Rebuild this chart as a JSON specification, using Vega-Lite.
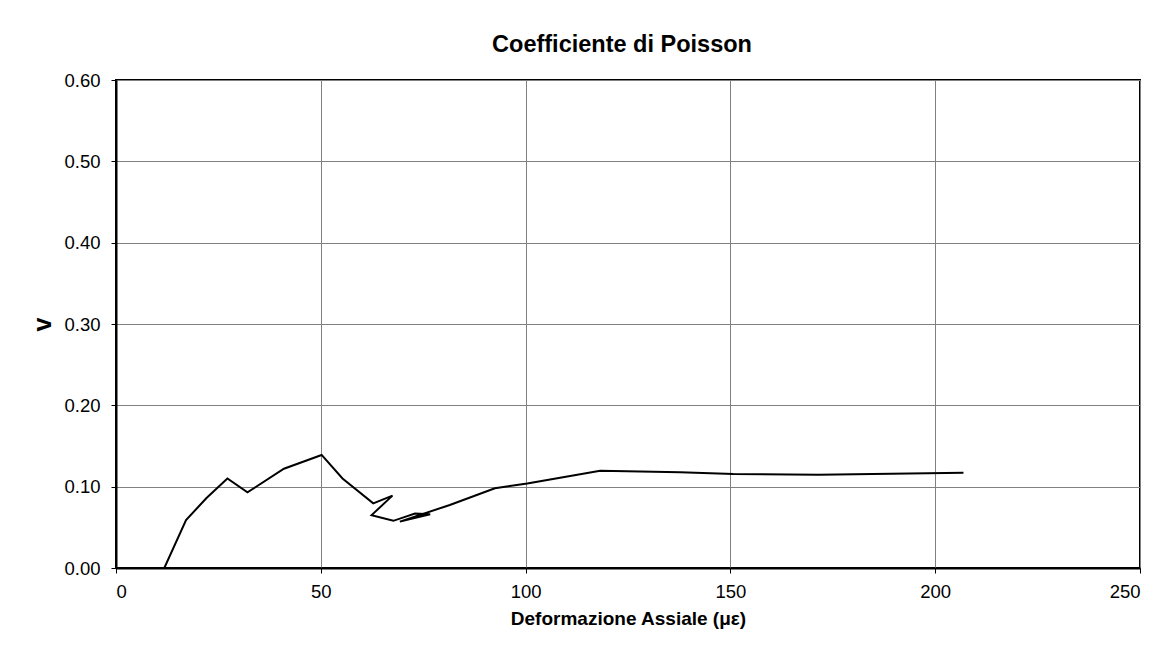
{
  "$schema": "https://vega.github.io/schema/vega-lite/v6.json",
  "autosize": {"type": "none"},
  "width": 1024,
  "height": 488,
  "padding": {"left": 116, "top": 80, "right": 26, "bottom": 100},
  "background": "white",
  "config": {
    "font": "Liberation Sans",
    "view": {"stroke": "black", "strokeWidth": 2},
    "axis": {
      "grid": true,
      "gridColor": "#808080",
      "gridWidth": 1,
      "gridOpacity": 1,
      "domainColor": "black",
      "domainWidth": 2,
      "tickColor": "black",
      "tickSize": 5,
      "labelFont": "Liberation Sans",
      "labelFontSize": 18.5,
      "labelColor": "black",
      "titleFont": "Liberation Sans",
      "titleColor": "black",
      "titleFontWeight": "bold"
    }
  },
  "title": {
    "text": "Coefficiente di Poisson",
    "font": "Liberation Sans",
    "fontSize": 23.5,
    "fontWeight": "bold",
    "color": "black",
    "anchor": "middle",
    "baseline": "alphabetic",
    "offset": 28,
    "dy": 32,
    "dx": -6
  },
  "data": {
    "values": [
      {"i": 1, "x": 11.8, "v": 0.0},
      {"i": 2, "x": 17.1, "v": 0.059},
      {"i": 3, "x": 22.1, "v": 0.086},
      {"i": 4, "x": 27.2, "v": 0.110},
      {"i": 5, "x": 32.1, "v": 0.093},
      {"i": 6, "x": 41.0, "v": 0.122},
      {"i": 7, "x": 50.2, "v": 0.139},
      {"i": 8, "x": 55.3, "v": 0.110},
      {"i": 9, "x": 62.8, "v": 0.0795},
      {"i": 10, "x": 67.5, "v": 0.089},
      {"i": 11, "x": 62.4, "v": 0.065},
      {"i": 12, "x": 67.7, "v": 0.058},
      {"i": 13, "x": 73.0, "v": 0.067},
      {"i": 14, "x": 76.7, "v": 0.066},
      {"i": 15, "x": 69.3, "v": 0.057},
      {"i": 16, "x": 81.5, "v": 0.0775},
      {"i": 17, "x": 92.5, "v": 0.098},
      {"i": 18, "x": 100.4, "v": 0.104},
      {"i": 19, "x": 118.2, "v": 0.1197},
      {"i": 20, "x": 137.7, "v": 0.1176},
      {"i": 21, "x": 150.7, "v": 0.1156},
      {"i": 22, "x": 171.5, "v": 0.1148},
      {"i": 23, "x": 206.9, "v": 0.117}
    ]
  },
  "mark": {"type": "line", "color": "black", "strokeWidth": 2, "clip": true},
  "encoding": {
    "order": {"field": "i", "type": "quantitative"},
    "x": {
      "field": "x",
      "type": "quantitative",
      "scale": {"domain": [0, 250], "nice": false, "zero": false},
      "axis": {
        "values": [0, 50, 100, 150, 200, 250],
        "format": "d",
        "labelPadding": 9,
        "title": "Deformazione Assiale (με)",
        "titleFontSize": 19,
        "titlePadding": 9
      }
    },
    "y": {
      "field": "v",
      "type": "quantitative",
      "scale": {"domain": [0, 0.6], "nice": false, "zero": false},
      "axis": {
        "values": [0, 0.1, 0.2, 0.3, 0.4, 0.5, 0.6],
        "format": ".2f",
        "labelPadding": 11,
        "title": "v",
        "titleFontSize": 25,
        "titlePadding": 8
      }
    }
  }
}
